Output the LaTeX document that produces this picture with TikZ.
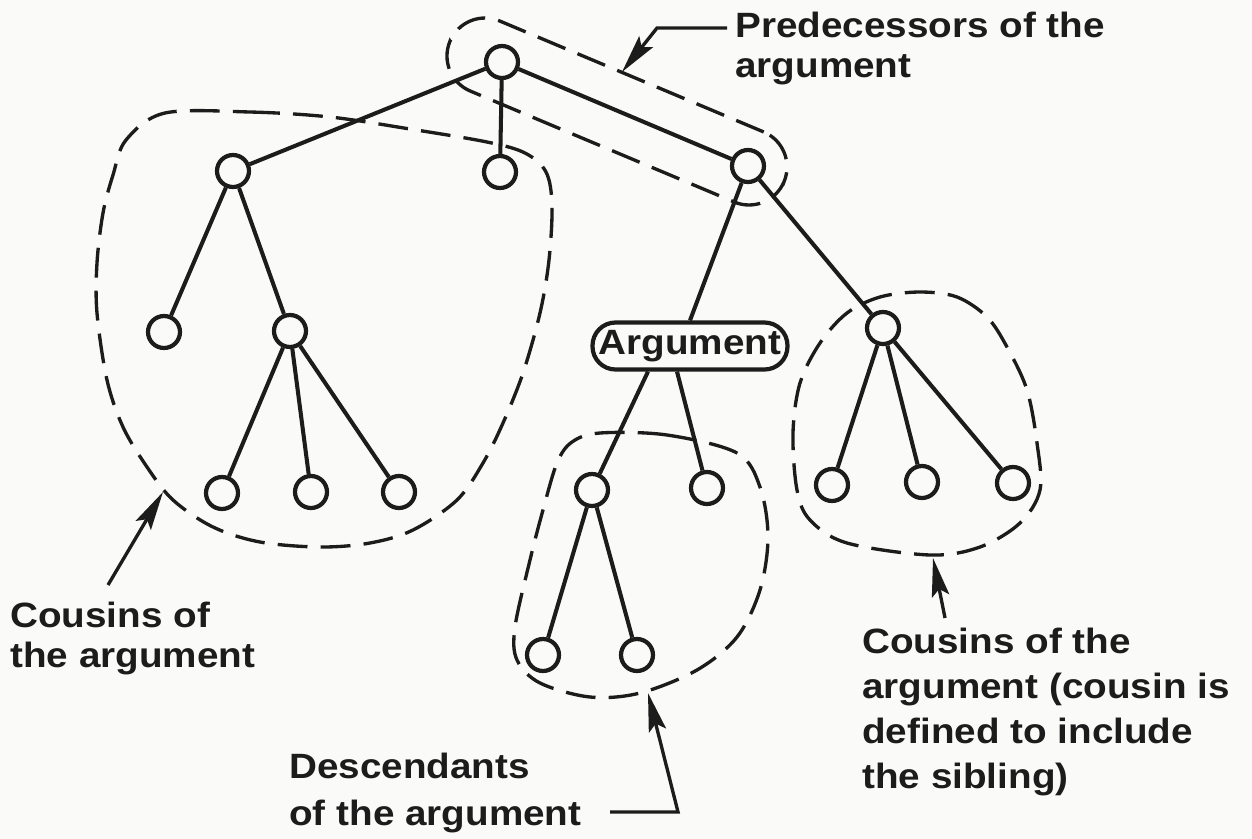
\documentclass[tikz,border=0pt]{standalone}
\usepackage{fontspec}
\setmainfont{Liberation Sans}[FakeStretch=1.1]
\usetikzlibrary{arrows.meta,calc}
\definecolor{ink}{RGB}{28,28,28}
\definecolor{paper}{RGB}{250,250,248}
\begin{document}
\begin{tikzpicture}[x=0.02cm,y=-0.02cm,
  vtx/.style={circle,draw=ink,line width=2.4pt,minimum size=0.64cm,inner sep=0pt,fill=paper},
  edge/.style={draw=ink,line width=2.3pt},
  region/.style={draw=ink,line width=1.9pt,dash pattern=on 17pt off 7.5pt},
  lbl/.style={font=\bfseries\fontsize{20}{#1}\selectfont,align=left,inner sep=0pt,text=ink,anchor=base west},
  pointer/.style={draw=ink,line width=1.9pt,-{Stealth[length=22pt,width=10pt,inset=4pt]}}]

% page
\fill[paper] (0,0) rectangle (1252,839);
\useasboundingbox (0,0) rectangle (1252,839);

% dashed groupings
\node[region,rounded corners=0.76cm,minimum width=7.25cm,minimum height=1.52cm,
      inner sep=0pt,rotate=-22.8] (predregion) at (617,111.5) {};
\draw[region] plot[smooth cycle,tension=0.55] coordinates {
  (165,113) (250,112) (330,117) (410,129) (487,142) (525,153) (546,172) (552,205)
  (549,260) (540,313) (523,373) (503,423) (483,463) (457,500) (413,530) (370,543)
  (320,547) (260,542) (213,527) (173,500) (147,467) (123,427) (107,380) (97,313)
  (97,263) (103,213) (113,175) (126,140)};
\draw[region] plot[smooth cycle,tension=0.55] coordinates {
  (600,433) (667,435) (737,453) (760,487) (768,537) (760,590) (737,637) (697,670)
  (640,693) (590,697) (540,683) (517,660) (515,627) (530,560) (543,510) (557,463)
  (572,442)};
\draw[region] plot[smooth cycle,tension=0.55] coordinates {
  (920,292) (957,297) (987,317) (1007,347) (1027,390) (1037,443) (1040,490)
  (1020,523) (980,547) (930,555) (847,543) (810,520) (797,490) (793,433) (800,383)
  (820,343) (847,313) (880,297)};

% tree
\node[vtx] (root) at (502,62) {};
\node[vtx] (a1) at (233,171) {};
\node[vtx] (a2) at (500,172) {};
\node[vtx] (a3) at (748,166) {};
\node[vtx] (b1) at (164,332) {};
\node[vtx] (b2) at (290,331) {};
\node[vtx] (c1) at (222,493) {};
\node[vtx] (c2) at (311,492) {};
\node[vtx] (c3) at (399,492) {};
\node[draw=ink,line width=2.4pt,rounded corners=0.46cm,minimum width=3.9cm,
      minimum height=0.94cm,inner sep=0pt,fill=paper,text=ink,
      font=\bfseries\fontsize{20}{24}\selectfont] (arg) at (690,346) {Argument};
\node[vtx] (d1) at (592,490) {};
\node[vtx] (d2) at (707,488) {};
\node[vtx] (f1) at (543,655) {};
\node[vtx] (f2) at (637,655) {};
\node[vtx] (e1) at (883,328) {};
\node[vtx] (g1) at (832,485) {};
\node[vtx] (g2) at (922,482) {};
\node[vtx] (g3) at (1013,483) {};

\draw[edge] (root) -- (a1);
\draw[edge] (root) -- (a2);
\draw[edge] (root) -- (a3);
\draw[edge] (a1) -- (b1);
\draw[edge] (a1) -- (b2);
\draw[edge] (b2) -- (c1);
\draw[edge] (b2) -- (c2);
\draw[edge] (b2) -- (c3);
\draw[edge] (a3) -- (arg.north);
\draw[edge] (a3) -- (e1);
\draw[edge] ($(arg.south)+(-42,0)$) -- (d1);
\draw[edge] ($(arg.south)+(-13,0)$) -- (d2);
\draw[edge] (d1) -- (f1);
\draw[edge] (d1) -- (f2);
\draw[edge] (e1) -- (g1);
\draw[edge] (e1) -- (g2);
\draw[edge] (e1) -- (g3);

% labels (anchored at the baseline of their last line)
\node[lbl=22.7pt] (tpred) at (735,77) {Predecessors of the\\argument};
\node[lbl=22.7pt] (tcousl) at (10,667) {Cousins of\\the argument};
\node[lbl=26.6pt] (tdesc) at (289,825) {Descendants\\of the argument};
\node[lbl=25.5pt] (tcousr) at (862,788) {Cousins of the\\argument (cousin is\\defined to include\\the sibling)};

% pointers
\coordinate (pA) at (727,28);
\coordinate (pB) at (657,28);
\coordinate (pT) at (622,72);
\draw[pointer] (pA) -- (pB) -- (pT);
\coordinate (lA) at (108,585);
\coordinate (lT) at (163,492);
\draw[pointer] (lA) -- (lT);
\coordinate (dA) at (610,812);
\coordinate (dB) at (678,812);
\coordinate (dT) at (648,693);
\draw[pointer] (dA) -- (dB) -- (dT);
\coordinate (rA) at (945,618);
\coordinate (rT) at (933,558);
\draw[pointer] (rA) -- (rT);
\end{tikzpicture}
\end{document}
